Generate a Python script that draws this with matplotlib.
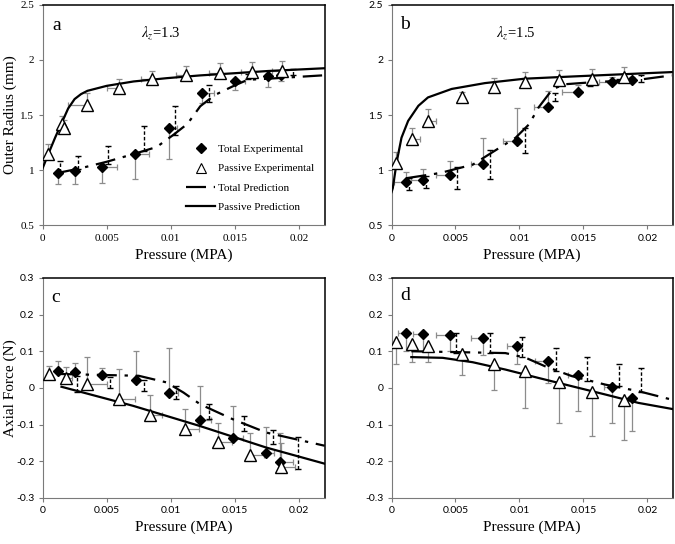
import matplotlib
matplotlib.use("Agg")
import matplotlib.pyplot as plt
from matplotlib.lines import Line2D

plt.rcParams["mathtext.fontset"] = "stix"

SERIF = "Liberation Serif"
SANS = "Lato"

X_TICKS = [0, 0.005, 0.01, 0.015, 0.02]
X_TICK_LABELS = ["0", "0.005", "0.01", "0.015", "0.02"]
R_TICKS = [0.5, 1, 1.5, 2, 2.5]
R_TICK_LABELS = ["0.5", "1", "1.5", "2", "2.5"]
F_TICKS = [-0.3, -0.2, -0.1, 0, 0.1, 0.2, 0.3]
F_TICK_LABELS = ["-0.3", "-0.2", "-0.1", "0", "0.1", "0.2", "0.3"]

# ---- panel a: outer radius, lambda_z = 1.3
A_TOT_X = [0.0012, 0.0025, 0.0046, 0.0072, 0.0099, 0.0124, 0.0150, 0.0176, 0.0186]
A_TOT_Y = [0.976, 0.99, 1.03, 1.15, 1.38, 1.70, 1.81, 1.855, 1.867]
A_TOT_YERR = [-0.10, -0.12, -0.15, -0.23, -0.28, -0.09, -0.08, -0.10, -0.06]
A_TOT_XERR = [0, 0, 0.0012, 0.0011, 0.0006, 0.0010, 0.0008, 0, 0]
A_PAS_X = [0.00044, 0.0015, 0.0017, 0.0035, 0.0060, 0.0085, 0.0112, 0.0138, 0.0163, 0.0187]
A_PAS_Y = [1.15, 1.42, 1.385, 1.59, 1.75, 1.83, 1.86, 1.885, 1.89, 1.90]
A_PAS_YERR = [0.09, 0.07, 0.07, 0.11, 0.08, 0.07, 0.085, 0.085, 0.09, 0.09]
A_PAS_XERR = [0, 0, 0, -0.0015, -0.001, -0.0008, -0.0008, -0.0008, -0.0008, -0.0008]
A_PAS_PX = [0, 0.0005, 0.001, 0.0015, 0.002, 0.0025, 0.003, 0.0035,
            0.005, 0.0071, 0.0097, 0.0123, 0.015, 0.0176, 0.022]
A_PAS_PY = [1.015, 1.16, 1.30, 1.43, 1.56, 1.645, 1.69, 1.72,
            1.765, 1.805, 1.835, 1.86, 1.88, 1.90, 1.925]
A_TOT_PX = [0.0012, 0.0029, 0.0050, 0.0071, 0.0089, 0.0102, 0.0113, 0.0123, 0.0134,
            0.0150, 0.0160, 0.0176, 0.0218]
A_TOT_PY = [0.975, 1.015, 1.076, 1.146, 1.21, 1.32, 1.42, 1.58, 1.68,
            1.77, 1.82, 1.83, 1.86]
A_DASH_X = [0.0014, 0.0028, 0.0051, 0.0079, 0.0103, 0.0130, 0.0160, 0.0195]
A_DASH_BASE = [0.98, 1.01, 1.06, 1.17, 1.32, 1.62, 1.83, 1.86]
A_DASH_TIP = [1.08, 1.13, 1.22, 1.40, 1.58, 1.77, 1.87, 1.92]

# ---- panel b: outer radius, lambda_z = 1.5
B_TOT_X = [0.00117, 0.00246, 0.00459, 0.00718, 0.0098, 0.0122, 0.0146, 0.0172, 0.0188]
B_TOT_Y = [0.891, 0.906, 0.952, 1.06, 1.263, 1.575, 1.706, 1.798, 1.82]
B_TOT_YERR = [0.09, 0.10, 0.13, 0.23, 0.30, 0.145, 0.07, 0.05, 0.03]
B_TOT_XERR = [-0.001, -0.0009, -0.0011, -0.001, -0.0011, -0.0011, -0.0013, -0.001, -0.0008]
B_PAS_X = [0.00034, 0.0016, 0.00285, 0.0055, 0.0080, 0.0104, 0.0131, 0.0157, 0.0182]
B_PAS_Y = [1.065, 1.28, 1.447, 1.66, 1.758, 1.797, 1.82, 1.83, 1.85]
B_PAS_YERR = [0.10, 0.105, 0.105, 0.05, 0.08, 0.09, 0.09, 0.09, 0.085]
B_PAS_XERR = [0, 0.0006, 0.0006, 0, 0, 0, 0, 0, 0]
B_PAS_PX = [0, 0.0001, 0.0004, 0.00078, 0.0013, 0.0021, 0.00285, 0.0047,
            0.0073, 0.0104, 0.0141, 0.018, 0.0219]
B_PAS_PY = [0.80, 0.836, 1.07, 1.294, 1.447, 1.584, 1.66, 1.737,
            1.79, 1.83, 1.85, 1.87, 1.89]
B_TOT_PX = [0.00117, 0.00376, 0.00635, 0.0084, 0.0097, 0.01075, 0.0115, 0.0126,
            0.0136, 0.0157, 0.0193, 0.0219]
B_TOT_PY = [0.927, 0.973, 1.05, 1.20, 1.294, 1.416, 1.57, 1.737,
            1.78, 1.798, 1.82, 1.86]
B_DASH_X = [0.0014, 0.0027, 0.0051, 0.0077, 0.0104, 0.0128, 0.0155, 0.0178, 0.0195]
B_DASH_BASE = [0.93, 0.95, 1.03, 1.18, 1.38, 1.70, 1.80, 1.83, 1.86]
B_DASH_TIP = [0.82, 0.84, 0.83, 0.92, 1.16, 1.63, 1.76, 1.80, 1.80]

# ---- panel c: axial force, lambda_z = 1.3
C_TOT_X = [0.00122, 0.00252, 0.00462, 0.00727, 0.00984, 0.0123, 0.01486, 0.01745, 0.01855]
C_TOT_Y = [0.045, 0.042, 0.035, 0.021, -0.015, -0.088, -0.138, -0.177, -0.202]
C_TOT_YERR = [0.027, 0.025, 0.019, 0.08, 0.125, 0.093, 0.089, 0.07, 0.08]
C_TOT_XERR = [0, 0, 0, 0, 0.0007, 0.0008, 0.0008, 0.0006, 0.001]
C_PAS_X = [0.00049, 0.0018, 0.0035, 0.0060, 0.0084, 0.0111, 0.0137, 0.0162, 0.0186]
C_PAS_Y = [0.039, 0.026, 0.010, -0.031, -0.074, -0.113, -0.148, -0.184, -0.216]
C_PAS_YERR = [0.021, 0.03, 0.073, 0.082, 0.054, 0.055, 0.053, 0.062, 0.066]
C_PAS_XERR = [0, 0.0005, 0.0015, 0.0012, 0.0009, 0.0011, 0.0011, 0.0011, 0.0011]
C_PAS_PX = [0.00148, 0.00706, 0.01226, 0.01745, 0.022]
C_PAS_PY = [0.003, -0.049, -0.104, -0.163, -0.207]
C_TOT_PX = [0.0012, 0.0075, 0.00966, 0.011, 0.0123, 0.01486, 0.01745, 0.022]
C_TOT_PY = [0.038, 0.033, 0.015, -0.013, -0.045, -0.086, -0.122, -0.158]
C_DASH_X = [0.0027, 0.0053, 0.0079, 0.0104, 0.0130, 0.0157, 0.0180, 0.0199]
C_DASH_BASE = [0.032, 0.03, 0.022, 0.005, -0.045, -0.077, -0.115, -0.135]
C_DASH_TIP = [-0.012, 0.0, -0.008, -0.031, -0.086, -0.118, -0.154, -0.222]

# ---- panel d: axial force, lambda_z = 1.5
D_TOT_X = [0.00117, 0.00246, 0.00459, 0.00718, 0.0098, 0.0122, 0.0146, 0.0172, 0.0188]
D_TOT_Y = [0.15, 0.147, 0.145, 0.136, 0.115, 0.073, 0.036, 0.002, -0.027]
D_TOT_YERR = [-0.05, -0.047, -0.045, -0.046, -0.051, -0.059, -0.10, -0.097, -0.091]
D_TOT_XERR = [-0.0007, -0.0008, -0.0011, -0.001, -0.0008, -0.001, -0.0008, -0.0006, 0]
D_PAS_X = [0.00034, 0.0016, 0.00285, 0.0055, 0.0080, 0.0104, 0.0131, 0.0157, 0.0182]
D_PAS_Y = [0.125, 0.121, 0.114, 0.093, 0.065, 0.045, 0.016, -0.011, -0.034]
D_PAS_YERR = [-0.06, -0.05, -0.044, -0.057, -0.07, -0.10, -0.111, -0.121, -0.107]
D_PAS_XERR = [0, 0, 0, 0, 0, 0, 0, 0, 0]
D_PAS_PX = [0.00155, 0.004, 0.00635, 0.0089, 0.0115, 0.0141, 0.0167, 0.0193, 0.022]
D_PAS_PY = [0.084, 0.082, 0.07, 0.05, 0.027, 0.0045, -0.018, -0.041, -0.058]
D_TOT_PX = [0.00155, 0.0089, 0.0105, 0.012, 0.0141, 0.0167, 0.0193, 0.022]
D_TOT_PY = [0.1, 0.095, 0.082, 0.059, 0.032, 0.009, -0.009, -0.033]
D_DASH_X = [0.00505, 0.0077, 0.01023, 0.01282, 0.01528, 0.01775, 0.0195]
D_DASH_BASE = [0.095, 0.095, 0.085, 0.045, 0.02, 0.005, -0.01]
D_DASH_TIP = [0.15, 0.15, 0.14, 0.11, 0.085, 0.065, 0.055]


def split(errs):
    lo = [max(-e, 0) for e in errs]
    hi = [max(e, 0) for e in errs]
    return [lo, hi]


def draw_panel(ax, p):
    gray = "#8c8c8c"
    # experimental error bars (grey, one-sided)
    for x, y, ye, xe in [(p["tx"], p["ty"], p["tye"], p["txe"]),
                         (p["px"], p["py"], p["pye"], p["pxe"])]:
        ax.errorbar(x, y, yerr=split(ye), xerr=split(xe), fmt="none",
                    ecolor=gray, elinewidth=0.9, capsize=2, capthick=0.9, zorder=2)
    # dashed bars on the total prediction
    derr = [t - b for b, t in zip(p["db"], p["dt"])]
    eb = ax.errorbar(p["dx"], p["db"], yerr=split(derr), fmt="none", ecolor="black",
                     elinewidth=1.0, capsize=2, capthick=1.0, zorder=2)
    eb[2][0].set_linestyle((0, (2.5, 1.5)))

    ax.plot(p["tpx"], p["tpy"], color="black", lw=1.6,
            dashes=(9, 3.5, 1.5, 3.5), zorder=3)
    ax.plot(p["ppx"], p["ppy"], color="black", lw=1.6, zorder=3)
    ax.plot(p["tx"], p["ty"], "D", color="black", ms=5, lw=0, zorder=4)
    ax.plot(p["px"], p["py"], "^", mfc="white", mec="black", mew=1.0,
            ms=8, lw=0, zorder=4)

    ax.set_xlim(0, 0.022)
    ax.set_xticks(X_TICKS)
    ax.set_xticklabels(X_TICK_LABELS)
    ax.set_xlabel("Pressure (MPA)", family=SERIF, fontsize=11, labelpad=4)
    for side in ["left", "bottom"]:
        ax.spines[side].set_color("#7a7a7a")
    for side in ["top", "right"]:
        ax.spines[side].set_color("black")
        ax.spines[side].set_linewidth(1.1)
    ax.tick_params(length=3, color="#7a7a7a", width=0.8, pad=3)
    ax.text(p["lx"], p["ly"], p["letter"], transform=ax.transAxes,
            family=SERIF, fontsize=14, va="center", ha="left")
    if p["lam"]:
        ax.text(p["lamx"], 0.875, p["lam"], transform=ax.transAxes,
                family=SERIF, fontsize=10.5, va="center", ha="center")


def main():
    fig = plt.figure(figsize=(6.75, 5.44), dpi=100)
    ax_a = fig.add_axes([0.063, 0.586, 0.418, 0.405])
    ax_b = fig.add_axes([0.580, 0.586, 0.417, 0.405])
    ax_c = fig.add_axes([0.063, 0.085, 0.418, 0.404])
    ax_d = fig.add_axes([0.580, 0.085, 0.417, 0.404])

    panels = [
        (ax_a, dict(tx=A_TOT_X, ty=A_TOT_Y, tye=A_TOT_YERR, txe=A_TOT_XERR,
                    px=A_PAS_X, py=A_PAS_Y, pye=A_PAS_YERR, pxe=A_PAS_XERR,
                    ppx=A_PAS_PX, ppy=A_PAS_PY, tpx=A_TOT_PX, tpy=A_TOT_PY,
                    dx=A_DASH_X, db=A_DASH_BASE, dt=A_DASH_TIP,
                    letter="a", lx=0.035, ly=0.905,
                    lam=r"$\lambda_z$=1.3", lamx=0.42)),
        (ax_b, dict(tx=B_TOT_X, ty=B_TOT_Y, tye=B_TOT_YERR, txe=B_TOT_XERR,
                    px=B_PAS_X, py=B_PAS_Y, pye=B_PAS_YERR, pxe=B_PAS_XERR,
                    ppx=B_PAS_PX, ppy=B_PAS_PY, tpx=B_TOT_PX, tpy=B_TOT_PY,
                    dx=B_DASH_X, db=B_DASH_BASE, dt=B_DASH_TIP,
                    letter="b", lx=0.03, ly=0.91,
                    lam=r"$\lambda_z$=1.5", lamx=0.44)),
        (ax_c, dict(tx=C_TOT_X, ty=C_TOT_Y, tye=C_TOT_YERR, txe=C_TOT_XERR,
                    px=C_PAS_X, py=C_PAS_Y, pye=C_PAS_YERR, pxe=C_PAS_XERR,
                    ppx=C_PAS_PX, ppy=C_PAS_PY, tpx=C_TOT_PX, tpy=C_TOT_PY,
                    dx=C_DASH_X, db=C_DASH_BASE, dt=C_DASH_TIP,
                    letter="c", lx=0.03, ly=0.91, lam=None, lamx=0)),
        (ax_d, dict(tx=D_TOT_X, ty=D_TOT_Y, tye=D_TOT_YERR, txe=D_TOT_XERR,
                    px=D_PAS_X, py=D_PAS_Y, pye=D_PAS_YERR, pxe=D_PAS_XERR,
                    ppx=D_PAS_PX, ppy=D_PAS_PY, tpx=D_TOT_PX, tpy=D_TOT_PY,
                    dx=D_DASH_X, db=D_DASH_BASE, dt=D_DASH_TIP,
                    letter="d", lx=0.03, ly=0.92, lam=None, lamx=0)),
    ]
    for ax, p in panels:
        draw_panel(ax, p)

    for ax in (ax_a, ax_b):
        ax.set_ylim(0.5, 2.5)
        ax.set_yticks(R_TICKS)
        ax.set_yticklabels(R_TICK_LABELS)
    for ax in (ax_c, ax_d):
        ax.set_ylim(-0.3, 0.3)
        ax.set_yticks(F_TICKS)
        ax.set_yticklabels(F_TICK_LABELS)

    ax_a.set_ylabel("Outer Radius (mm)", family=SERIF, fontsize=11)
    ax_a.yaxis.set_label_coords(-0.09, 0.5)
    ax_c.set_ylabel("Axial Force (N)", family=SERIF, fontsize=11)
    ax_c.yaxis.set_label_coords(-0.09, 0.5)

    # panel a uses serif tick labels, the others a sans face
    for lab in ax_a.get_xticklabels() + ax_a.get_yticklabels():
        lab.set_family(SERIF)
        lab.set_fontsize(8)
    for ax in (ax_b, ax_c, ax_d):
        for lab in ax.get_xticklabels() + ax.get_yticklabels():
            lab.set_family(SANS)
            lab.set_fontsize(7.5)

    handles = [
        Line2D([], [], marker="D", color="black", lw=0, ms=5),
        Line2D([], [], marker="^", mfc="white", mec="black", mew=0.8, lw=0, ms=7),
        Line2D([], [], color="black", lw=1.6, dashes=(9, 3.5, 1.5, 3.5)),
        Line2D([], [], color="black", lw=1.6),
    ]
    labels = ["Total Experimental", "Passive Experimental",
              "Total Prediction", "Passive Prediction"]
    ax_a.legend(handles, labels, loc="lower right", bbox_to_anchor=(1.0, 0.015),
                frameon=False, prop={"family": SERIF, "size": 8},
                handlelength=2.6, handletextpad=0.3, labelspacing=0.85)

    fig.savefig("out.png", dpi=100)


if __name__ == "__main__":
    main()
